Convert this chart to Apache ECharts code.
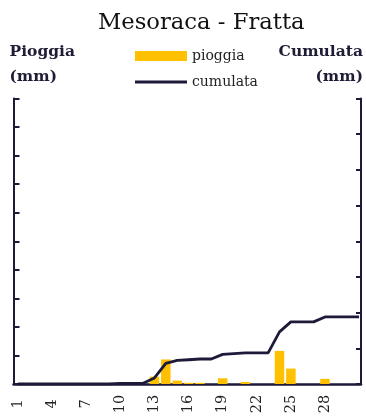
<!DOCTYPE html>
<html>
<head>
<meta charset="utf-8">
<script src="https://cdn.jsdelivr.net/npm/echarts@6/dist/echarts.min.js"></script>
<style>html,body{margin:0;padding:0;background:#fff;}#c{width:366px;height:417px;}</style>
</head>
<body>
<div id="c"></div>
<script>
const titleText = 'Mesoraca - Fratta';
const days = [1,2,3,4,5,6,7,8,9,10,11,12,13,14,15,16,17,18,19,20,21,22,23,24,25,26,27,28,29,30,31];
const pioggia = [0,0,0,0,0,0,0,0,0,0.1,0,0,1.3,4.3,0.6,0.2,0.2,0,1.0,0,0.35,0,0,5.8,2.7,0,0,0.9,0,0,0];
const cumulata = [0,0,0,0,0,0,0,0,0,0.15,0.15,0.2,1.7,5.8,6.6,6.8,7.0,7.0,8.3,8.5,8.7,8.7,8.7,14.6,17.4,17.4,17.4,18.8,18.8,18.8,18.8];
const xTickLabels = [1,4,7,10,13,16,19,22,25,28];
const leftName = 'Pioggia\n(mm)';
const rightName = 'Cumulata\n(mm)';

const navy = '#1c1a38';
const gold = '#FFC000';
const chart = echarts.init(document.getElementById('c'));
chart.setOption({
  animation: false,
  title: {
    text: titleText, left: 98, top: 12, padding: 0,
    textStyle: {fontFamily: 'DejaVu Serif', fontSize: 22.7, fontWeight: 'normal', color: '#111'}
  },
  legend: [
    {data: [{name: 'pioggia', icon: 'rect'}], left: 135, top: 49, padding: 0,
     itemWidth: 52, itemHeight: 10,
     textStyle: {fontFamily: 'DejaVu Serif', fontSize: 14, color: '#222'}},
    {data: [{name: 'cumulata', icon: 'rect', itemStyle: {color: navy}}], left: 135, top: 75, padding: 0,
     itemWidth: 52, itemHeight: 3,
     textStyle: {fontFamily: 'DejaVu Serif', fontSize: 14, color: '#222'}}
  ],
  grid: {left: 13.5, right: 5, top: 98.5, bottom: 33, containLabel: false},
  xAxis: {
    type: 'value', min: 0.6, max: 31.17,
    axisLine: {show: true, lineStyle: {color: navy, width: 2.5}},
    axisTick: {show: false},
    splitLine: {show: false},
    axisLabel: {
      customValues: xTickLabels, rotate: 90, align: 'center', verticalAlign: 'middle', margin: 20,
      fontFamily: 'DejaVu Serif', fontSize: 14.5, color: '#222',
      formatter: v => String(Math.round(v))
    }
  },
  yAxis: [
    {type: 'value', min: 0, max: 50, interval: 5, position: 'left',
     name: leftName, nameLocation: 'end', nameGap: 9,
     nameTextStyle: {fontFamily: 'DejaVu Serif', fontWeight: 'bold', fontSize: 15.5, color: '#1f1d36',
       align: 'left', verticalAlign: 'bottom', lineHeight: 25, padding: [0,0,0,-4]},
     axisLine: {show: true, lineStyle: {color: navy, width: 2}},
     axisTick: {show: true, inside: true, length: 6, lineStyle: {color: navy, width: 2}},
     axisLabel: {show: false}, splitLine: {show: false}},
    {type: 'value', min: 0, max: 80, interval: 10, position: 'right',
     name: rightName, nameLocation: 'end', nameGap: 9,
     nameTextStyle: {fontFamily: 'DejaVu Serif', fontWeight: 'bold', fontSize: 15.5, color: '#1f1d36',
       align: 'right', verticalAlign: 'bottom', lineHeight: 25, padding: [0,-2,0,0]},
     axisLine: {show: true, lineStyle: {color: navy, width: 2}},
     axisTick: {show: true, inside: true, length: 5, lineStyle: {color: navy, width: 2}},
     axisLabel: {show: false}, splitLine: {show: false}}
  ],
  series: [
    {name: 'pioggia', type: 'bar', yAxisIndex: 0, barWidth: 9.5,
     itemStyle: {color: gold},
     data: days.map((d, i) => [d, pioggia[i]]), z: 2},
    {name: 'cumulata', type: 'line', yAxisIndex: 1, symbol: 'none',
     lineStyle: {color: navy, width: 2.8}, itemStyle: {color: navy},
     data: days.map((d, i) => [d, cumulata[i]]), z: 3}
  ]
});
</script>
</body>
</html>
